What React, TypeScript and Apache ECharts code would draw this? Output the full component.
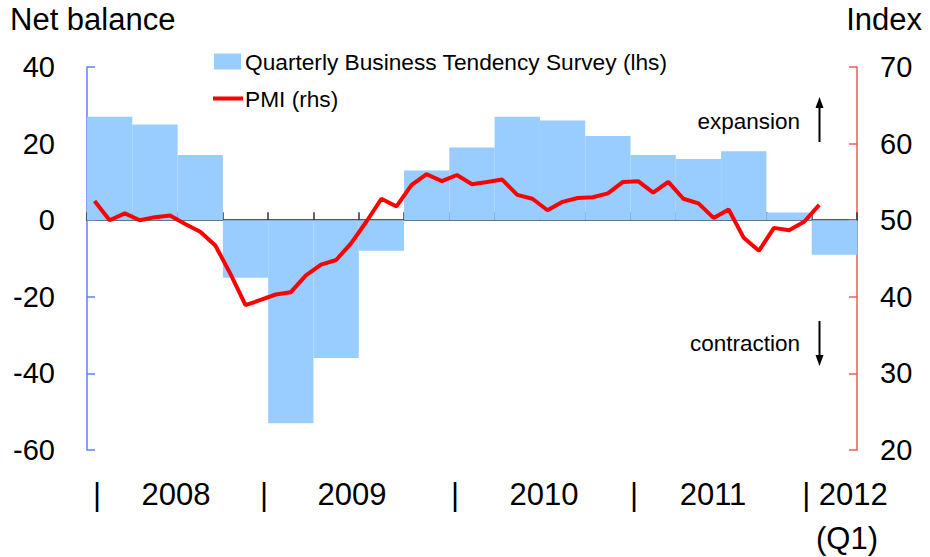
import React, { useEffect, useRef } from "react";
import * as echarts from "echarts";

// Quarterly Business Tendency Survey (net balance, lhs), 2008Q1 - 2012Q1
const quarters = [
  "2008Q1", "2008Q2", "2008Q3", "2008Q4",
  "2009Q1", "2009Q2", "2009Q3", "2009Q4",
  "2010Q1", "2010Q2", "2010Q3", "2010Q4",
  "2011Q1", "2011Q2", "2011Q3", "2011Q4",
  "2012Q1",
];
const surveyBalance = [27, 25, 17, -15, -53, -36, -8, 13, 19, 27, 26, 22, 17, 16, 18, 2, -9];

// Monthly PMI (index, rhs), Jan 2008 - Jan 2012 (axis runs to Mar 2012)
const years = ["2008", "2009", "2010", "2011", "2012"];
const monthNames = ["Jan", "Feb", "Mar", "Apr", "May", "Jun", "Jul", "Aug", "Sep", "Oct", "Nov", "Dec"];
const months: string[] = [];
years.forEach((y) => monthNames.forEach((m) => months.push(m + " " + y)));
const monthAxis = months.slice(0, 51);
const pmi = [
  52.5, 50.0, 50.9, 50.0, 50.4, 50.6, 49.5, 48.5, 46.7, 43.0, 38.9, 39.6,
  40.3, 40.6, 42.8, 44.2, 44.8, 47.0, 49.8, 52.8, 51.8, 54.6, 56.0, 55.1,
  55.9, 54.7, 55.0, 55.3, 53.3, 52.8, 51.3, 52.4, 52.9, 53.0, 53.5, 55.0,
  55.1, 53.6, 55.0, 52.8, 52.2, 50.3, 51.4, 47.7, 46.0, 49.0, 48.7, 49.8,
  52.0,
];

const leftMin = -60, leftMax = 40, leftStep = 20;
const rightMin = 20, rightMax = 70, rightStep = 10;

const barName = "Quarterly Business Tendency Survey (lhs)";
const lineName = "PMI (rhs)";
const leftTitle = "Net balance";
const rightTitle = "Index";
const xLabels = ["|", "2008", "|", "2009", "|", "2010", "|", "2011", "| 2012", "(Q1)"];

const FONT = "'Liberation Sans', Arial, sans-serif";

export default function App() {
  const ref = useRef<HTMLDivElement>(null);
  useEffect(() => {
    if (!ref.current) return;
    const chart = echarts.init(ref.current, null, { renderer: "svg" });
    const textStyle = (s: number) => ({ fontSize: s, fontFamily: FONT, fill: "#000" });
    const xLabelPos = [
      [97, 494], [176, 494], [264, 494], [352, 494], [455, 494], [544, 494],
      [634, 494], [713, 494], [845, 494], [847, 538],
    ];
    chart.setOption({
      animation: false,
      backgroundColor: "#fff",
      textStyle: { fontFamily: FONT, color: "#000" },
      grid: { left: 87, right: 73, top: 67, bottom: 107 },
      legend: [
        {
          data: [{ name: barName, icon: "rect" }],
          left: 209,
          top: 45,
          itemWidth: 27,
          itemHeight: 16,
          textStyle: { fontSize: 22.7, fontFamily: FONT, color: "#000", padding: [0, 0, 0, -1] },
          selectedMode: false,
        },
        {
          data: [{ name: lineName, icon: "path://M0,0 L30,0 L30,4 L0,4 Z" }],
          left: 208,
          top: 82,
          itemWidth: 30,
          itemHeight: 4,
          textStyle: { fontSize: 22.7, fontFamily: FONT, color: "#000", padding: [0, 0, 0, -3] },
          selectedMode: false,
        },
      ],
      xAxis: [
        {
          type: "category",
          data: quarters,
          gridIndex: 0,
          boundaryGap: true,
          axisLine: { onZero: true, lineStyle: { color: "#555a60", width: 2 } },
          axisTick: { show: true, inside: true, length: 8, interval: 0, lineStyle: { color: "#333", width: 1.5 } },
          axisLabel: { show: false },
          splitLine: { show: false },
        },
        {
          type: "category",
          data: monthAxis,
          gridIndex: 0,
          boundaryGap: true,
          show: false,
        },
      ],
      yAxis: [
        {
          type: "value",
          min: leftMin,
          max: leftMax,
          interval: leftStep,
          position: "left",
          axisLine: { show: true, onZero: false, lineStyle: { color: "#5a86f0", width: 1.5 } },
          axisTick: { show: true, inside: true, length: 8, lineStyle: { color: "#5a86f0", width: 1.5 } },
          axisLabel: { fontSize: 29, fontFamily: FONT, color: "#000", margin: 32 },
          splitLine: { show: false },
        },
        {
          type: "value",
          min: rightMin,
          max: rightMax,
          interval: rightStep,
          position: "right",
          axisLine: { show: true, onZero: false, lineStyle: { color: "#f05a5a", width: 1.5 } },
          axisTick: { show: true, inside: true, length: 8, lineStyle: { color: "#f05a5a", width: 1.5 } },
          axisLabel: { fontSize: 29, fontFamily: FONT, color: "#000", margin: 23 },
          splitLine: { show: false },
        },
      ],
      series: [
        {
          name: barName,
          type: "bar",
          xAxisIndex: 0,
          yAxisIndex: 0,
          data: surveyBalance,
          barWidth: "100%",
          barCategoryGap: "0%",
          itemStyle: { color: "#99ccff" },
          z: 1,
        },
        {
          name: lineName,
          type: "line",
          xAxisIndex: 1,
          yAxisIndex: 1,
          data: pmi,
          symbol: "none",
          showSymbol: false,
          lineStyle: { color: "#ff0000", width: 4 },
          itemStyle: { color: "#ff0000" },
          z: 5,
        },
      ],
      graphic: [
        { type: "text", left: 10, top: 4, style: { text: leftTitle, ...textStyle(31) } },
        { type: "text", right: 8, top: 4, style: { text: rightTitle, ...textStyle(31) } },
        {
          type: "text", x: 800, y: 121,
          style: { text: "expansion", ...textStyle(22.5), textAlign: "right", textVerticalAlign: "middle" },
        },
        {
          type: "text", x: 800, y: 343,
          style: { text: "contraction", ...textStyle(22.5), textAlign: "right", textVerticalAlign: "middle" },
        },
        { type: "line", shape: { x1: 819.5, y1: 142, x2: 819.5, y2: 106 }, style: { stroke: "#000", lineWidth: 2 } },
        { type: "polygon", shape: { points: [[819.5, 97], [815.5, 108], [823.5, 108]] }, style: { fill: "#000" } },
        { type: "line", shape: { x1: 819.5, y1: 321, x2: 819.5, y2: 357 }, style: { stroke: "#000", lineWidth: 2 } },
        { type: "polygon", shape: { points: [[819.5, 366], [815.5, 355], [823.5, 355]] }, style: { fill: "#000" } },
        ...xLabels.map((t, i) => ({
          type: "text",
          x: xLabelPos[i][0],
          y: xLabelPos[i][1],
          style: { text: t, ...textStyle(31), textAlign: "center", textVerticalAlign: "middle" },
        })),
      ],
    });
    return () => chart.dispose();
  }, []);
  return (
    <div
      ref={ref}
      style={{ position: "fixed", left: 0, top: 0, width: 930, height: 557, background: "#fff" }}
    />
  );
}
